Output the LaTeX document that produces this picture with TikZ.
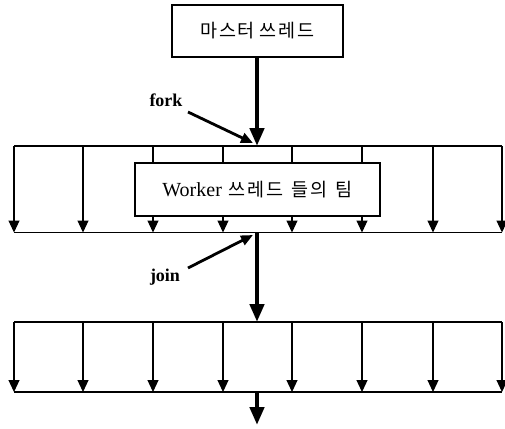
\documentclass[tikz,border=0pt]{standalone}
\usepackage{fontspec}
\setmainfont{Liberation Serif}
\newfontfamily\kr[LetterSpace=10]{Noto Sans CJK KR}
\usetikzlibrary{arrows.meta}
\tikzset{
  thinline/.style={line width=1.2pt},
  thinarrow/.style={line width=1.2pt,-{Triangle[width=11pt,length=12pt]}},
  thickarrow/.style={line width=4.4pt,-{Triangle[width=14pt,length=18pt]}},
  pointer/.style={line width=2.8pt,-{Triangle[width=10pt,length=12pt]}},
  box/.style={draw,line width=1.2pt,fill=white,inner sep=0pt},
  lbl/.style={font=\fontsize{18}{20}\selectfont\bfseries}
}
\begin{document}
\begin{tikzpicture}[x=1pt,y=-1pt]
\useasboundingbox (0,0) rectangle (505,428);
% master
\node[box,minimum width=171pt,minimum height=52pt] (master) at (257.5,31)
  {\kr\fontsize{18.5}{20}\selectfont 마스터\hspace{5pt}쓰레드};
% coordinates
\coordinate (f1) at (257,146);
\coordinate (j1) at (257,232.5);
\coordinate (f2) at (257,322);
\coordinate (j2) at (257,392);
\coordinate (endp) at (257,425);
\foreach \i/\x in {1/14,2/83,3/153,4/223,5/292,6/362,7/433,8/502}{
  \coordinate (ta\i) at (\x,146);
  \coordinate (ba\i) at (\x,232.5);
  \coordinate (tb\i) at (\x,322);
  \coordinate (bb\i) at (\x,392);
}
% bars
\draw[thinline] (ta1) -- (ta8);
\draw[thinline] (ba1) -- (ba8);
\draw[thinline] (tb1) -- (tb8);
\draw[thinline] (bb1) -- (bb8);
\foreach \i in {1,...,8}{
  \draw[thinarrow] (ta\i) -- (ba\i);
  \draw[thinarrow] (tb\i) -- (bb\i);
}
% worker box
\node[box,minimum width=245pt,minimum height=53pt] (worker) at (257.5,189.5)
  {\fontsize{20}{22}\selectfont Worker\hspace{7pt}{\kr\fontsize{18.5}{20}\selectfont 쓰레드\hspace{8pt}들의\hspace{8pt}팀}};
% main flow
\draw[thickarrow] (master.south -| f1) -- (f1);
\draw[thickarrow] (j1) -- (f2);
\draw[thickarrow] (j2) -- (endp);
% labels
\node[lbl] (fork) at (166,100) {fork};
\node[lbl] (join) at (165,277) {join};
\coordinate (forkend) at (253,143);
\coordinate (joinend) at (253,235);
\draw[pointer] (188,112) -- (forkend);
\draw[pointer] (188,268) -- (joinend);
\end{tikzpicture}
\end{document}
